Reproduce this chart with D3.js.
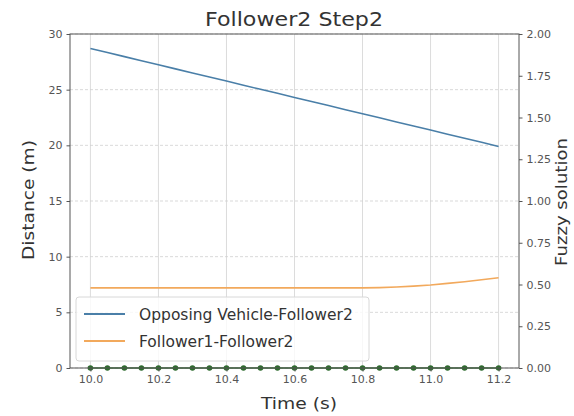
<!DOCTYPE html>
<html><head><meta charset="utf-8">
<script src="https://cdn.jsdelivr.net/npm/d3@7"></script>
<style>body{margin:0;background:#fff}svg{display:block;font-family:"DejaVu Sans",sans-serif}</style>
</head><body><svg id="c" width="574" height="416"></svg>
<script>
const times = [10.0,10.05,10.1,10.15,10.2,10.25,10.3,10.35,10.4,10.45,10.5,10.55,10.6,10.65,10.7,10.75,10.8,10.85,10.9,10.95,11.0,11.05,11.1,11.15,11.2];
const opposing = [28.7,28.33,27.97,27.6,27.23,26.87,26.5,26.13,25.77,25.4,25.03,24.67,24.3,23.93,23.57,23.2,22.83,22.47,22.1,21.73,21.37,21.0,20.63,20.27,19.9];
const follower1 = [7.2,7.2,7.2,7.2,7.2,7.2,7.2,7.2,7.2,7.2,7.2,7.2,7.2,7.2,7.2,7.2,7.2,7.22,7.27,7.35,7.45,7.6,7.75,7.92,8.1];
const fuzzy = [0,0,0,0,0,0,0,0,0,0,0,0,0,0,0,0,0,0,0,0,0,0,0,0,0];
const xTicks = [10.0,10.2,10.4,10.6,10.8,11.0,11.2];
const yTicks = [0,5,10,15,20,25,30];
const y2Ticks = [0,0.25,0.5,0.75,1.0,1.25,1.5,1.75,2.0];
const seriesNames = ["Opposing Vehicle-Follower2","Follower1-Follower2"];

const svg = d3.select("#c");
const L=70,R=519,T=34,B=368;
const x = d3.scaleLinear().domain([9.94,11.26]).range([L,R]);
const y = d3.scaleLinear().domain([0,30]).range([B,T]);
const y2 = d3.scaleLinear().domain([0,2]).range([B,T]);

// grid
svg.append("g").selectAll("line").data(xTicks).join("line")
  .attr("x1",d=>x(d)).attr("x2",d=>x(d)).attr("y1",T).attr("y2",B)
  .attr("stroke","#dcdcdc").attr("stroke-width",1);
svg.append("g").selectAll("line").data(yTicks).join("line")
  .attr("x1",L).attr("x2",R).attr("y1",d=>y(d)).attr("y2",d=>y(d))
  .attr("stroke","#cfcfcf").attr("stroke-width",0.8).attr("stroke-dasharray","3,2");

// lines
const line = (arr,sc)=>d3.line().x((d,i)=>x(times[i])).y(d=>sc(d))(arr);
svg.append("path").attr("d",line(opposing,y)).attr("fill","none").attr("stroke","#4a7fa8").attr("stroke-width",1.6);
svg.append("path").attr("d",line(follower1,y)).attr("fill","none").attr("stroke","#f2a95c").attr("stroke-width",1.6);
svg.append("path").attr("d",line(fuzzy,y2)).attr("fill","none").attr("stroke","#2e6b2e").attr("stroke-width",1.6);
svg.append("g").selectAll("circle").data(fuzzy).join("circle")
  .attr("cx",(d,i)=>x(times[i])).attr("cy",d=>y2(d)).attr("r",2.8).attr("fill","#2e6b2e");

// axes
const fmt2 = d3.format(".2f");
const gx = svg.append("g").attr("transform",`translate(0,${B})`)
  .call(d3.axisBottom(x).tickValues(xTicks).tickFormat(d3.format(".1f")).tickSize(3.5).tickPadding(4));
const gy = svg.append("g").attr("transform",`translate(${L},0)`)
  .call(d3.axisLeft(y).tickValues(yTicks).tickSize(3.5).tickPadding(4));
const gy2 = svg.append("g").attr("transform",`translate(${R},0)`)
  .call(d3.axisRight(y2).tickValues(y2Ticks).tickFormat(fmt2).tickSize(3.5).tickPadding(4));
[gx,gy,gy2].forEach(g=>{
  g.selectAll("text").attr("font-size",11).attr("fill","#555").attr("font-family","DejaVu Sans");
  g.selectAll(".tick line").attr("stroke","#555");
  g.select(".domain").remove();
});
// spines
svg.append("rect").attr("x",L).attr("y",T).attr("width",R-L).attr("height",B-T)
  .attr("fill","none").attr("stroke","#555").attr("stroke-width",1);

// legend
const lg = svg.append("g");
lg.append("rect").attr("x",76).attr("y",297).attr("width",293).attr("height",64).attr("rx",3)
  .attr("fill","rgba(255,255,255,0.8)").attr("stroke","#d8d8d8");
const lcol = ["#4a7fa8","#f2a95c"];
seriesNames.forEach((n,i)=>{
  const yy = 314 + i*27;
  lg.append("line").attr("x1",84).attr("x2",125).attr("y1",yy).attr("y2",yy).attr("stroke",lcol[i]).attr("stroke-width",1.8);
  lg.append("text").attr("x",139).attr("y",yy+5.5).attr("font-size",15.5).attr("fill","#333").text(n);
});

// titles
svg.append("text").attr("x",294).attr("y",26).attr("text-anchor","middle").attr("font-size",19)
  .attr("textLength",178).attr("lengthAdjust","spacingAndGlyphs").attr("fill","#333").text("Follower2 Step2");
svg.append("text").attr("x",299).attr("y",409).attr("text-anchor","middle").attr("font-size",16)
  .attr("textLength",76).attr("lengthAdjust","spacingAndGlyphs").attr("fill","#333").text("Time (s)");
svg.append("text").attr("transform","translate(34,200) rotate(-90)").attr("text-anchor","middle").attr("font-size",16)
  .attr("textLength",120).attr("lengthAdjust","spacingAndGlyphs").attr("fill","#333").text("Distance (m)");
svg.append("text").attr("transform","translate(567,202) rotate(-90)").attr("text-anchor","middle").attr("font-size",16)
  .attr("textLength",128).attr("lengthAdjust","spacingAndGlyphs").attr("fill","#333").text("Fuzzy solution");
</script></body></html>
